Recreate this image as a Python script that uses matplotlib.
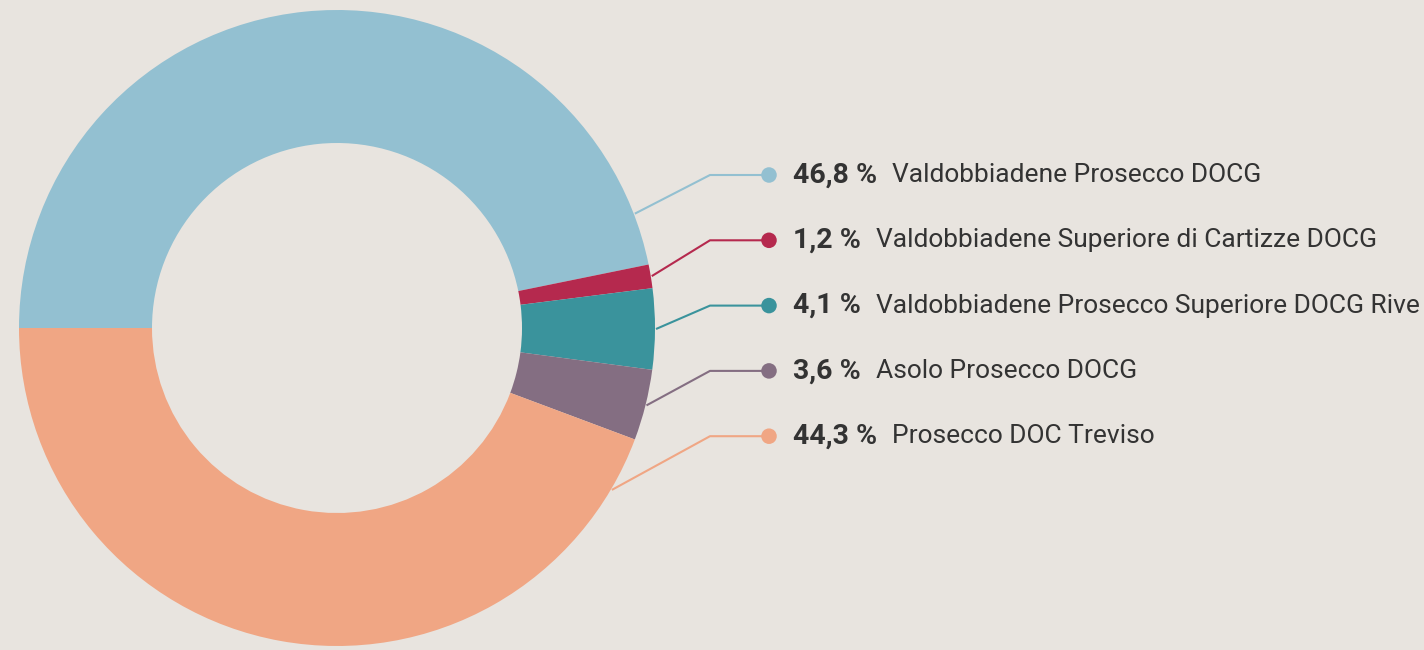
import numpy as np
import matplotlib
matplotlib.use("Agg")
import matplotlib.pyplot as plt

# data
labels = ["Valdobbiadene Prosecco DOCG",
          "Valdobbiadene Superiore di Cartizze DOCG",
          "Valdobbiadene Prosecco Superiore DOCG Rive",
          "Asolo Prosecco DOCG",
          "Prosecco DOC Treviso"]
shares = [46.8, 1.2, 4.1, 3.6, 44.3]
colors = ["#93c0d1", "#b5294e", "#3a939c", "#846e82", "#f0a684"]

bg = "#e8e4df"
text_col = "#333333"
W, H = 1424, 650

plt.rcParams['font.family'] = ['Roboto', 'DejaVu Sans']

fig = plt.figure(figsize=(W / 100, H / 100), dpi=100, facecolor=bg)
ax = fig.add_axes([0, 0, 1, 1])
ax.set_facecolor(bg)

cx, cy = 337, H - 328
r_out, r_in = 318, 185

wedges, _ = ax.pie(shares, colors=colors, startangle=180, counterclock=False,
                   radius=r_out, center=(cx, cy),
                   wedgeprops=dict(width=r_out - r_in, edgecolor="none"))
ax.set_xlim(0, W)
ax.set_ylim(0, H)
ax.set_aspect("equal")
ax.axis("off")

# leader lines + labels
elbow_x, dot_x = 710, 769
top_y, step = 175, 65.3
for i, (w, lab, val, col) in enumerate(zip(wedges, labels, shares, colors)):
    mid = np.deg2rad(np.clip((w.theta1 + w.theta2) / 2, -30.5, 21))
    sx = cx + (r_out + 1) * np.cos(mid)
    sy = cy + (r_out + 1) * np.sin(mid)
    ly = H - (top_y + i * step)
    ax.plot([sx, elbow_x, dot_x], [sy, ly, ly], color=col, lw=1.5,
            solid_capstyle="butt", zorder=3)
    ax.scatter([dot_x], [ly], s=125, color=col, zorder=4, edgecolors="none")
    pct = ("%.1f" % val).replace(".", ",") + " %"
    t = ax.text(dot_x + 24, ly, pct, fontsize=20.5, fontweight="bold",
                color=text_col, va="center", ha="left")
    ax.annotate(lab, xy=(1, 0.5), xycoords=t, xytext=(11, 0),
                textcoords="offset points", fontsize=19, color=text_col,
                va="center", ha="left")

fig.savefig("out.png", dpi=100, facecolor=bg)
